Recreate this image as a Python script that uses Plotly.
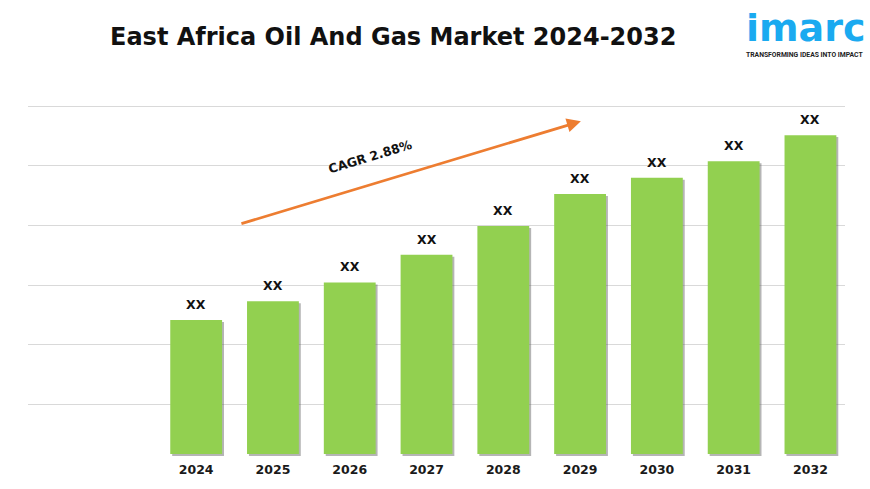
import plotly.graph_objects as go

years = ["2024", "2025", "2026", "2027", "2028", "2029", "2030", "2031", "2032"]
values = [135.5, 154.5, 173.5, 201.5, 230.5, 263, 279.5, 296, 322.5]
bar_labels = ["XX"] * len(years)
title_text = "East Africa Oil And Gas Market 2024-2032"
cagr_text = "CAGR 2.88%"

BAR_W = 0.675
fig = go.Figure()
# soft drop shadow
fig.add_trace(go.Bar(
    x=years, y=values, base=-2, offset=-BAR_W / 2 + 0.025, width=BAR_W,
    marker=dict(color="rgba(90,90,90,0.45)", line=dict(width=0)), hoverinfo="skip",
))
fig.add_trace(go.Bar(
    x=years, y=values, offset=-BAR_W / 2, width=BAR_W,
    marker=dict(color="#92D050", line=dict(width=0)),
))

annotations = [
    dict(x=i, y=v, text="<b>" + lb + "</b>", xref="x", yref="y", showarrow=False,
         yanchor="bottom", yshift=6,
         font=dict(family="DejaVu Sans", size=12.5, color="#111111"))
    for i, (v, lb) in enumerate(zip(values, bar_labels))
]
annotations += [
    dict(text="<b>" + title_text + "</b>", xref="paper", yref="paper", x=0.447, y=1.0,
         yshift=65, showarrow=False, xanchor="center", yanchor="middle",
         font=dict(family="DejaVu Sans", size=24, color="#111111")),
    dict(x=5.01, y=336.5, ax=0.57, ay=232.5, xref="x", yref="y", axref="x", ayref="y",
         showarrow=True, arrowhead=2, arrowsize=1, arrowwidth=2.8, arrowcolor="#ED7D31",
         text=""),
    dict(text="<b>" + cagr_text + "</b>", xref="x", yref="y", x=2.27, y=300.5, showarrow=False,
         textangle=-17, font=dict(family="DejaVu Sans", size=12.5, color="#111111")),
    dict(text="<b>imarc</b>", xref="paper", yref="paper", x=1.028, y=1.0, yshift=74,
         showarrow=False, xanchor="right", yanchor="middle",
         font=dict(family="DejaVu Sans", size=38, color="#1AAAF0")),
    dict(text="<b>TRANSFORMING IDEAS INTO IMPACT</b>", xref="paper", yref="paper",
         x=1.024, y=1.0, yshift=47.5, showarrow=False, xanchor="right", yanchor="middle",
         font=dict(family="Roboto", size=6.8, color="#222222")),
]

fig.update_layout(
    width=870, height=489,
    margin=dict(l=28, r=25, t=101.5, b=28.5),
    paper_bgcolor="white", plot_bgcolor="white",
    showlegend=False, barmode="overlay",
    font=dict(family="DejaVu Sans"),
    xaxis=dict(type="category", range=[-2.19, 8.45], showgrid=False, showline=False,
               ticks="", ticklabelstandoff=3,
               tickfont=dict(family="DejaVu Sans", size=12.5, color="#1a1a1a"),
               tickprefix="<b>", ticksuffix="</b>"),
    yaxis=dict(range=[-3, 356], showticklabels=False, showgrid=True, gridcolor="#d9d9d9",
               gridwidth=1, tick0=50.5, dtick=60.2, zeroline=False, showline=False),
    annotations=annotations,
)

fig.write_html("out.html", config={"displayModeBar": False},
               post_script="document.body.style.margin='0';document.body.style.overflow='hidden';")
